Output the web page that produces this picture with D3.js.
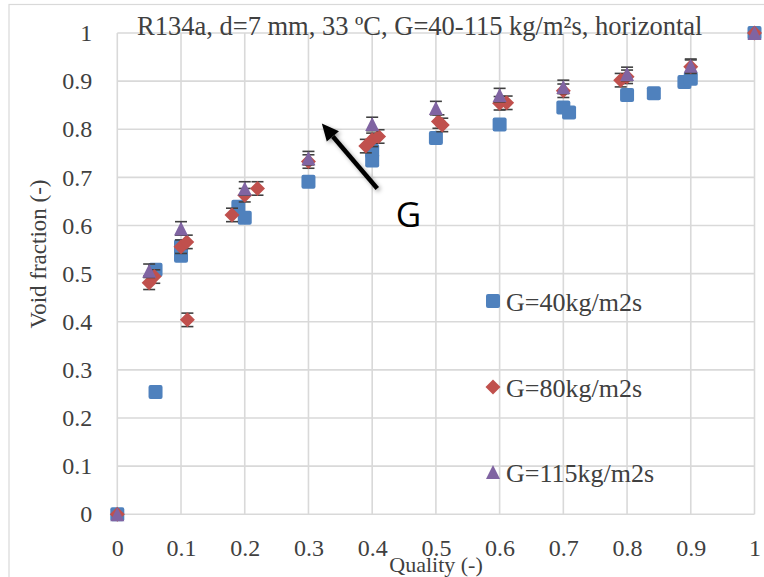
<!DOCTYPE html>
<html>
<head>
<meta charset="utf-8">
<script src="https://cdn.jsdelivr.net/npm/d3@7"></script>
<style>
  body { margin: 0; background: #fff; }
  svg { display: block; }
</style>
</head>
<body>
<div id="d3"></div>
<script>
// data
const xTicks = [0, 0.1, 0.2, 0.3, 0.4, 0.5, 0.6, 0.7, 0.8, 0.9, 1];
const yTicks = [0, 0.1, 0.2, 0.3, 0.4, 0.5, 0.6, 0.7, 0.8, 0.9, 1];

const g40x = [0, 0.06, 0.06, 0.1, 0.1, 0.19, 0.2, 0.3, 0.4, 0.4, 0.5, 0.6, 0.7, 0.709, 0.8, 0.842, 0.89, 0.9, 1];
const g40y = [0, 0.508, 0.254, 0.537, 0.557, 0.639, 0.616, 0.691, 0.735, 0.755, 0.782, 0.81, 0.845, 0.835, 0.871, 0.875, 0.898, 0.905, 1];

const g80x = [0, 0.05, 0.058, 0.1, 0.109, 0.11, 0.18, 0.2, 0.22, 0.3, 0.39, 0.4, 0.41, 0.504, 0.51, 0.6, 0.611, 0.7, 0.79, 0.8, 0.9, 1];
const g80y = [0, 0.481, 0.494, 0.556, 0.566, 0.404, 0.622, 0.663, 0.677, 0.733, 0.765, 0.778, 0.785, 0.816, 0.809, 0.854, 0.855, 0.88, 0.902, 0.909, 0.93, 1];
const g80err = [0, 0.014, 0.014, 0.014, 0.014, 0.014, 0.014, 0.014, 0.014, 0.014, 0.014, 0.014, 0.014, 0.014, 0.014, 0.014, 0.014, 0.014, 0.014, 0.014, 0.014, 0];

const g115x = [0, 0.05, 0.1, 0.2, 0.3, 0.4, 0.5, 0.6, 0.7, 0.8, 0.9, 1];
const g115y = [0, 0.506, 0.594, 0.677, 0.74, 0.811, 0.844, 0.871, 0.888, 0.915, 0.932, 1];
const g115err = [0, 0.014, 0.014, 0.014, 0.014, 0.014, 0.014, 0.014, 0.014, 0.014, 0.014, 0];

const seriesNames = ["G=40kg/m2s", "G=80kg/m2s", "G=115kg/m2s"];
const colors = ["#4F81BD", "#C0504D", "#8064A2"];

// arrow annotation in data units (tail -> tip)
const arrowFrom = [0.408, 0.677];
const arrowTo = [0.321, 0.812];

const W = 764, H = 577;
const margin = { top: 33, right: 9.5, bottom: 62.7, left: 117.3 },
  width = W - margin.left - margin.right,
  height = H - margin.top - margin.bottom;

const svg = d3
  .select("#d3")
  .append("svg")
  .attr("width", W)
  .attr("height", H);

const defs = svg.append("defs");
defs.append("filter")
  .attr("id", "shadow")
  .attr("x", "-50%").attr("y", "-50%").attr("width", "200%").attr("height", "200%")
  .append("feDropShadow")
  .attr("dx", 2).attr("dy", 2).attr("stdDeviation", 2)
  .attr("flood-color", "#000").attr("flood-opacity", 0.35);

// chart frame
svg.append("rect")
  .attr("x", 9).attr("y", 4.5)
  .attr("width", 800).attr("height", 700)
  .attr("fill", "none")
  .attr("stroke", "#D9D9D9")
  .attr("stroke-width", 1.2);

const g = svg.append("g").attr("transform", `translate(${margin.left},${margin.top})`);

const x = d3.scaleLinear().domain([0, 1]).range([0, width]);
const y = d3.scaleLinear().domain([0, 1]).range([height, 0]);

// grid
g.append("g")
  .selectAll("line")
  .data(xTicks)
  .join("line")
  .attr("x1", (d) => x(d)).attr("x2", (d) => x(d))
  .attr("y1", 0).attr("y2", height)
  .attr("stroke", "#D9D9D9").attr("stroke-width", 1.6);
g.append("g")
  .selectAll("line")
  .data(yTicks)
  .join("line")
  .attr("y1", (d) => y(d)).attr("y2", (d) => y(d))
  .attr("x1", 0).attr("x2", width)
  .attr("stroke", "#D9D9D9").attr("stroke-width", 1.6);

// axes (labels only, Excel style)
const xAxis = g.append("g")
  .attr("transform", `translate(0, ${height})`)
  .call(d3.axisBottom(x).tickValues(xTicks).tickFormat(d3.format("~g")).tickSize(0).tickPadding(25));
const yAxis = g.append("g")
  .call(d3.axisLeft(y).tickValues(yTicks).tickFormat(d3.format("~g")).tickSize(0).tickPadding(25));
[xAxis, yAxis].forEach((a) => {
  a.select(".domain").remove();
  a.selectAll("text")
    .attr("fill", "#404040")
    .style("font-family", "'Liberation Serif', serif")
    .style("font-size", "24px");
});

// shapes
const half = 7;
const shapes = [
  () => `M${-half},${-half + 2}Q${-half},${-half} ${-half + 2},${-half}L${half - 2},${-half}Q${half},${-half} ${half},${-half + 2}L${half},${half - 2}Q${half},${half} ${half - 2},${half}L${-half + 2},${half}Q${-half},${half} ${-half},${half - 2}Z`,
  () => `M0,${-half - 0.5}L${half + 0.5},0L0,${half + 0.5}L${-half - 0.5},0Z`,
  () => `M0,${-half}L${half},${half}L${-half},${half}Z`,
];

const series = [
  { xs: g40x, ys: g40y, err: null },
  { xs: g80x, ys: g80y, err: g80err },
  { xs: g115x, ys: g115y, err: g115err },
];

series.forEach((s, i) => {
  const pts = s.xs.map((d, j) => ({ q: d, v: s.ys[j], e: s.err ? s.err[j] : 0 }));
  const layer = g.append("g");
  if (s.err) {
    const eb = layer.append("g")
      .attr("stroke", "#404040").attr("stroke-width", 1.6);
    pts.filter((p) => p.e > 0).forEach((p) => {
      const cx = x(p.q);
      eb.append("line").attr("x1", cx).attr("x2", cx).attr("y1", y(p.v + p.e)).attr("y2", y(p.v - p.e));
      eb.append("line").attr("x1", cx - 6).attr("x2", cx + 6).attr("y1", y(p.v + p.e)).attr("y2", y(p.v + p.e));
      eb.append("line").attr("x1", cx - 6).attr("x2", cx + 6).attr("y1", y(p.v - p.e)).attr("y2", y(p.v - p.e));
    });
  }
  layer.selectAll("path")
    .data(pts)
    .join("path")
    .attr("d", shapes[i])
    .attr("transform", (p) => `translate(${x(p.q)},${y(p.v)})`)
    .attr("fill", colors[i]);
});

// arrow
const ax1 = x(arrowFrom[0]), ay1 = y(arrowFrom[1]);
const ax2 = x(arrowTo[0]), ay2 = y(arrowTo[1]);
const ang = Math.atan2(ay2 - ay1, ax2 - ax1);
const headLen = 17, headW = 8;
const bx = ax2 - headLen * Math.cos(ang), by = ay2 - headLen * Math.sin(ang);
const arrow = g.append("g").attr("filter", "url(#shadow)");
arrow.append("line")
  .attr("x1", ax1).attr("y1", ay1).attr("x2", bx).attr("y2", by)
  .attr("stroke", "#000").attr("stroke-width", 4.5);
arrow.append("path")
  .attr("d", `M${ax2},${ay2}L${bx + headW * Math.sin(ang)},${by - headW * Math.cos(ang)}L${bx - headW * Math.sin(ang)},${by + headW * Math.cos(ang)}Z`)
  .attr("fill", "#000");

g.append("text")
  .attr("x", x(0.437)).attr("y", y(0.597))
  .attr("fill", "#000")
  .style("font-family", "'Open Sans', sans-serif")
  .style("font-size", "35px")
  .text("G");

// legend
const legend = svg.append("g");
const legY = [301, 387, 472];
seriesNames.forEach((name, i) => {
  const row = legend.append("g").attr("transform", `translate(493, ${legY[i]})`);
  row.append("path").attr("d", shapes[i]).attr("fill", colors[i]);
  row.append("text")
    .attr("x", 13).attr("y", 9.5)
    .attr("fill", "#404040")
    .style("font-family", "'Liberation Serif', serif")
    .style("font-size", "26px")
    .text(name);
});

// title
svg.append("text")
  .attr("x", 137).attr("y", 34.5)
  .attr("fill", "#404040")
  .style("font-family", "'Liberation Serif', serif")
  .style("font-size", "26.5px")
  .text("R134a, d=7 mm, 33 ºC, G=40-115 kg/m²s, horizontal");

// axis titles
svg.append("text")
  .attr("text-anchor", "middle")
  .attr("x", 436).attr("y", 572)
  .attr("fill", "#404040")
  .style("font-family", "'Liberation Serif', serif")
  .style("font-size", "22px")
  .text("Quality (-)");

svg.append("text")
  .attr("text-anchor", "middle")
  .attr("transform", "translate(46, 254) rotate(-90)")
  .attr("fill", "#404040")
  .style("font-family", "'Liberation Serif', serif")
  .style("font-size", "23px")
  .text("Void fraction (-)");
</script>
</body>
</html>
